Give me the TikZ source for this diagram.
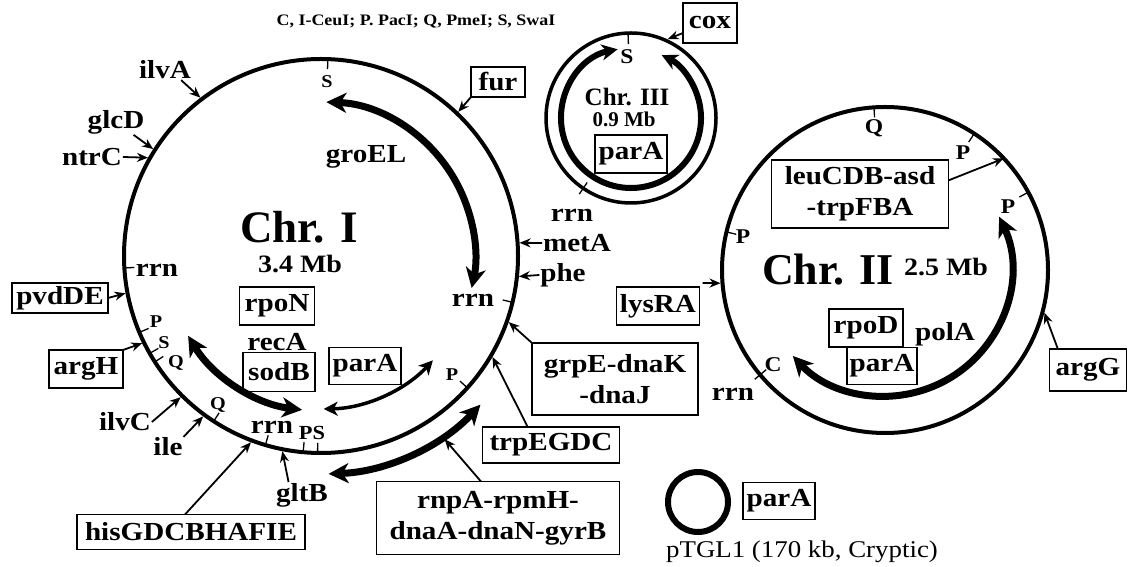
\documentclass[tikz,border=0pt]{standalone}
\usepackage{fontspec}
\setmainfont{Liberation Serif}[FakeStretch=1.12]
\newfontfamily\myplainfont{Liberation Serif}
\usetikzlibrary{arrows.meta,calc}
\newcommand\mygfont{\fontsize{26}{31}\selectfont\bfseries}
\newcommand\mycapfont{\fontsize{16}{18}\selectfont\bfseries}
\newcommand\mysmfont{\fontsize{18}{20}\selectfont\bfseries}
\newcommand\mypsfont{\fontsize{20}{22}\selectfont\bfseries}
\newcommand\mychrIfont{\myplainfont\fontsize{45}{50}\selectfont\bfseries}
\newcommand\mychrIIfont{\myplainfont\fontsize{44}{50}\selectfont\bfseries}
\newcommand\mychrIIIfont{\myplainfont\fontsize{25}{28}\selectfont\bfseries}
\newcommand\mymbIIIfont{\myplainfont\fontsize{21}{24}\selectfont\bfseries}
\newcommand\mymbfont{\fontsize{25}{28}\selectfont\bfseries}
\newcommand\mypIIfont{\fontsize{21}{23}\selectfont\bfseries}
\newcommand\myptfont{\fontsize{24}{27}\selectfont}
\tikzset{
  every node/.style={inner sep=1pt, outer sep=0pt, font=\mygfont},
  genebox/.style={draw, line width=1.4pt, inner sep=2pt, align=center, font=\mygfont},
  ptr/.style={line width=1.8pt, -{Stealth[length=11pt,width=9pt]}},
  circ/.style={line width=4pt},
  tickmark/.style={line width=1.3pt},
  bigarc/.style={line width=7pt, {Stealth[length=20pt,width=20pt,inset=6pt]}-{Stealth[length=20pt,width=20pt,inset=6pt]}},
  medarc/.style={line width=6pt, {Stealth[length=16pt,width=16pt,inset=5pt]}-{Stealth[length=16pt,width=16pt,inset=5pt]}},
  thinarc/.style={line width=3.5pt, {Stealth[length=14pt,width=14pt,inset=4pt]}-{Stealth[length=14pt,width=14pt,inset=4pt]}},
}
\begin{document}
\begin{tikzpicture}[x=1pt,y=1pt]
\useasboundingbox[fill=white] (0,0) rectangle (1129,567);
\coordinate (C1) at (321,311);
\coordinate (C2) at (885,297);
\coordinate (C3) at (631,449);
\coordinate (CP) at (698,65);

% ---------------- Chr I ----------------
\draw[circ] (C1) circle[radius=197];
\draw[bigarc] ($(C1)+(88:154)$) arc[start angle=88, end angle=-12, radius=154];
\draw[bigarc] ($(C1)+(211:155)$) arc[start angle=211, end angle=263, radius=155];
\draw[thinarc] ($(C1)+(271:153)$) arc[start angle=271, end angle=317, radius=153];
\draw[bigarc] ($(C1)+(272:218)$) arc[start angle=272, end angle=317, radius=218];

% ticks
\foreach \a in {88,183.5,202.8,209.6,212.5,237,253.6,264.8,269,318,346.4}
  \draw[tickmark] ($(C1)+(\a:197)$) -- ($(C1)+(\a:187)$);

\node[font=\mycapfont] (cap) at (416,545) {C, I-CeuI; P. PacI; Q, PmeI; S, SwaI};
\node[font=\mysmfont] (S1top) at (327,485) {S};
\node (ilvA) at (165,497) {ilvA};
\node (glcD) at (116,445) {glcD};
\node (ntrC) at (92,410) {ntrC};
\node[genebox, minimum width=54pt, minimum height=30pt] (fur) at (498,485) {fur};
\node (groEL) at (366,410) {groEL};
\node[font=\mychrIfont] (chr1) at (299,340) {Chr. I};
\node[font=\mymbfont] (mb1) at (300,303) {3.4 Mb};
\node (rrnL) at (157,297) {rrn};
\node[genebox, minimum width=96pt, minimum height=30pt] (pvd) at (60,269) {pvdDE};
\node[font=\mysmfont] (P1a) at (156,245) {P};
\node[font=\mysmfont] (S1a) at (164,224) {S};
\node[font=\mysmfont] (Q1a) at (176,204) {Q};
\node[genebox, minimum width=74pt, minimum height=38pt] (argH) at (86,198) {argH};
\node (ilvC) at (125,145) {ilvC};
\node (ile) at (168,120) {ile};
\node[font=\mysmfont] (Q1b) at (218,162) {Q};
\node (rrnB) at (272,140) {rrn};
\node[font=\mypsfont] (PS) at (312,134) {PS};
\node[genebox, minimum width=228pt, minimum height=35pt] (his) at (191,35) {hisGDCBHAFIE};
\node (gltB) at (302,72) {gltB};
\node[genebox, minimum width=75pt, minimum height=38pt] (rpoN) at (277,261) {rpoN};
\node (recA) at (277,225) {recA};
\node[genebox, minimum width=72pt, minimum height=39pt] (sodB) at (279,195) {sodB};
\node[genebox, minimum width=72pt, minimum height=37pt] (parA1) at (365,201) {parA};
\node[font=\mysmfont] (P1b) at (452,192) {P};
\node (rrnR) at (473,267) {rrn};
\node (metA) at (577,324) {metA};
\node (phe) at (563,292) {phe};
\node[genebox, minimum width=166pt, minimum height=72pt] (grpE) at (615,188) {grpE-dnaK\\-dnaJ};
\node[genebox, minimum width=137pt, minimum height=36pt] (trp) at (551,122) {trpEGDC};
\node[genebox, minimum width=243pt, minimum height=73pt] (rnpA) at (498,49) {rnpA-rpmH-\\dnaA-dnaN-gyrB};

\draw[ptr] ($(ilvA.south)!0.6!(ilvA.south east)$) -- ($(C1)+(127.3:199)$);
\draw[ptr] ($(glcD.south)!0.6!(glcD.south east)$) -- ($(C1)+(147.5:199)$);
\draw[ptr] (ntrC.east) -- ($(C1)+(150.4:199)$);
\draw[ptr] (fur.south west) -- ($(C1)+(46.4:199)$);
\draw[ptr] (pvd.east) -- ($(C1)+(190.8:199)$);
\draw[ptr] (argH.north east) -- ($(C1)+(206:199)$);
\draw[ptr] (ilvC.east) -- ($(C1)+(225.2:199)$);
\draw[ptr] (ile.north east) -- ($(C1)+(233.7:199)$);
\draw[ptr] ($(his.north)+(-6,0)$) -- ($(C1)+(249.4:199)$);
\draw[ptr] ($(gltB.north)!0.5!(gltB.north west)$) -- ($(C1)+(258.8:199)$);
\draw[ptr] (metA.west) -- ($(C1)+(3.8:199)$);
\draw[ptr] (phe.west) -- ($(C1)+(-5.9:199)$);
\draw[ptr] (grpE.north west) -- ($(C1)+(340.6:199)$);
\draw[ptr] ($(trp.north west)!0.33!(trp.north east)$) -- ($(C1)+(329.5:199)$);
\draw[ptr] ($(rnpA.north west)!0.43!(rnpA.north east)$) -- ($(C1)+(-56:221)$);

% ---------------- Chr III ----------------
\draw[line width=3.5pt] (C3) circle[radius=85];
\draw[medarc] ($(C3)+(101:70)$) arc[start angle=101, end angle=424, radius=70];
\draw[tickmark] ($(C3)+(92:85)$) -- ($(C3)+(92:74)$);
\draw[tickmark] ($(C3)+(235.8:78)$) -- ($(C3)+(235.8:92)$);
\node[font=\mypIIfont] (S3) at (627,510) {S};
\node[genebox, minimum width=54pt, minimum height=40pt] (cox) at (710,544) {cox};
\node[font=\mychrIIIfont] (chr3) at (627,470) {Chr. III};
\node[font=\mymbIIIfont] (mb3) at (624,448) {0.9 Mb};
\node[genebox, minimum width=72pt, minimum height=38pt] (parA3) at (631,413) {parA};
\node (rrn3) at (572,352) {rrn};
\draw[ptr] ($(cox.west)!0.5!(cox.south west)$) -- ($(C3)+(65:87)$);

% ---------------- Chr II ----------------
\draw[circ] (C2) circle[radius=163];
\draw[bigarc] ($(C2)+(25:126)$) arc[start angle=25, end angle=-137, radius=126];
\foreach \a in {93.9,56.8,28.5,166.5}
  \draw[tickmark] ($(C2)+(\a:163)$) -- ($(C2)+(\a:153)$);
\draw[tickmark] ($(C2)+(220:155)$) -- ($(C2)+(220:170)$);
\node[font=\mypIIfont] (Q2) at (874,439) {Q};
\node[font=\mypIIfont] (P2a) at (963,414) {P};
\node[font=\mypIIfont] (P2b) at (1008,360) {P};
\node[font=\mypIIfont] (P2c) at (743,330) {P};
\node[font=\mypIIfont] (C2l) at (773,202) {C};
\node[genebox, minimum width=177pt, minimum height=68pt] (leu) at (860,373) {leuCDB-asd\\-trpFBA};
\node[font=\mychrIIfont] (chr2) at (828,297) {Chr. II};
\node[font=\mymbfont] (mb2) at (946,300) {2.5 Mb};
\node[genebox, minimum width=83pt, minimum height=38pt] (lys) at (658,261) {lysRA};
\node[genebox, minimum width=74pt, minimum height=38pt] (rpoD) at (866,239) {rpoD};
\node (polA) at (945,233) {polA};
\node[genebox, minimum width=70pt, minimum height=37pt] (parA2) at (882,201) {parA};
\node[genebox, minimum width=77pt, minimum height=42pt] (argG) at (1088,197) {argG};
\node (rrn2) at (733,173) {rrn};
\draw[ptr] ($(leu.east)!0.4!(leu.north east)$) -- ($(C2)+(43.2:163)$);
\draw[ptr] ($(lys.north east)+(3,4)$) -- ($(C2)+(184.6:165)$);
\draw[ptr] ($(argG.north west)+(8,1)$) -- ($(C2)+(-15:165)$);

% ---------------- pTGL1 ----------------
\draw[line width=6pt] (CP) circle[radius=30];
\node[genebox, minimum width=72pt, minimum height=37pt] (parAp) at (779,66) {parA};
\node[font=\myptfont] (ptgl) at (802,15) {pTGL1 (170 kb, Cryptic)};
\end{tikzpicture}
\end{document}
